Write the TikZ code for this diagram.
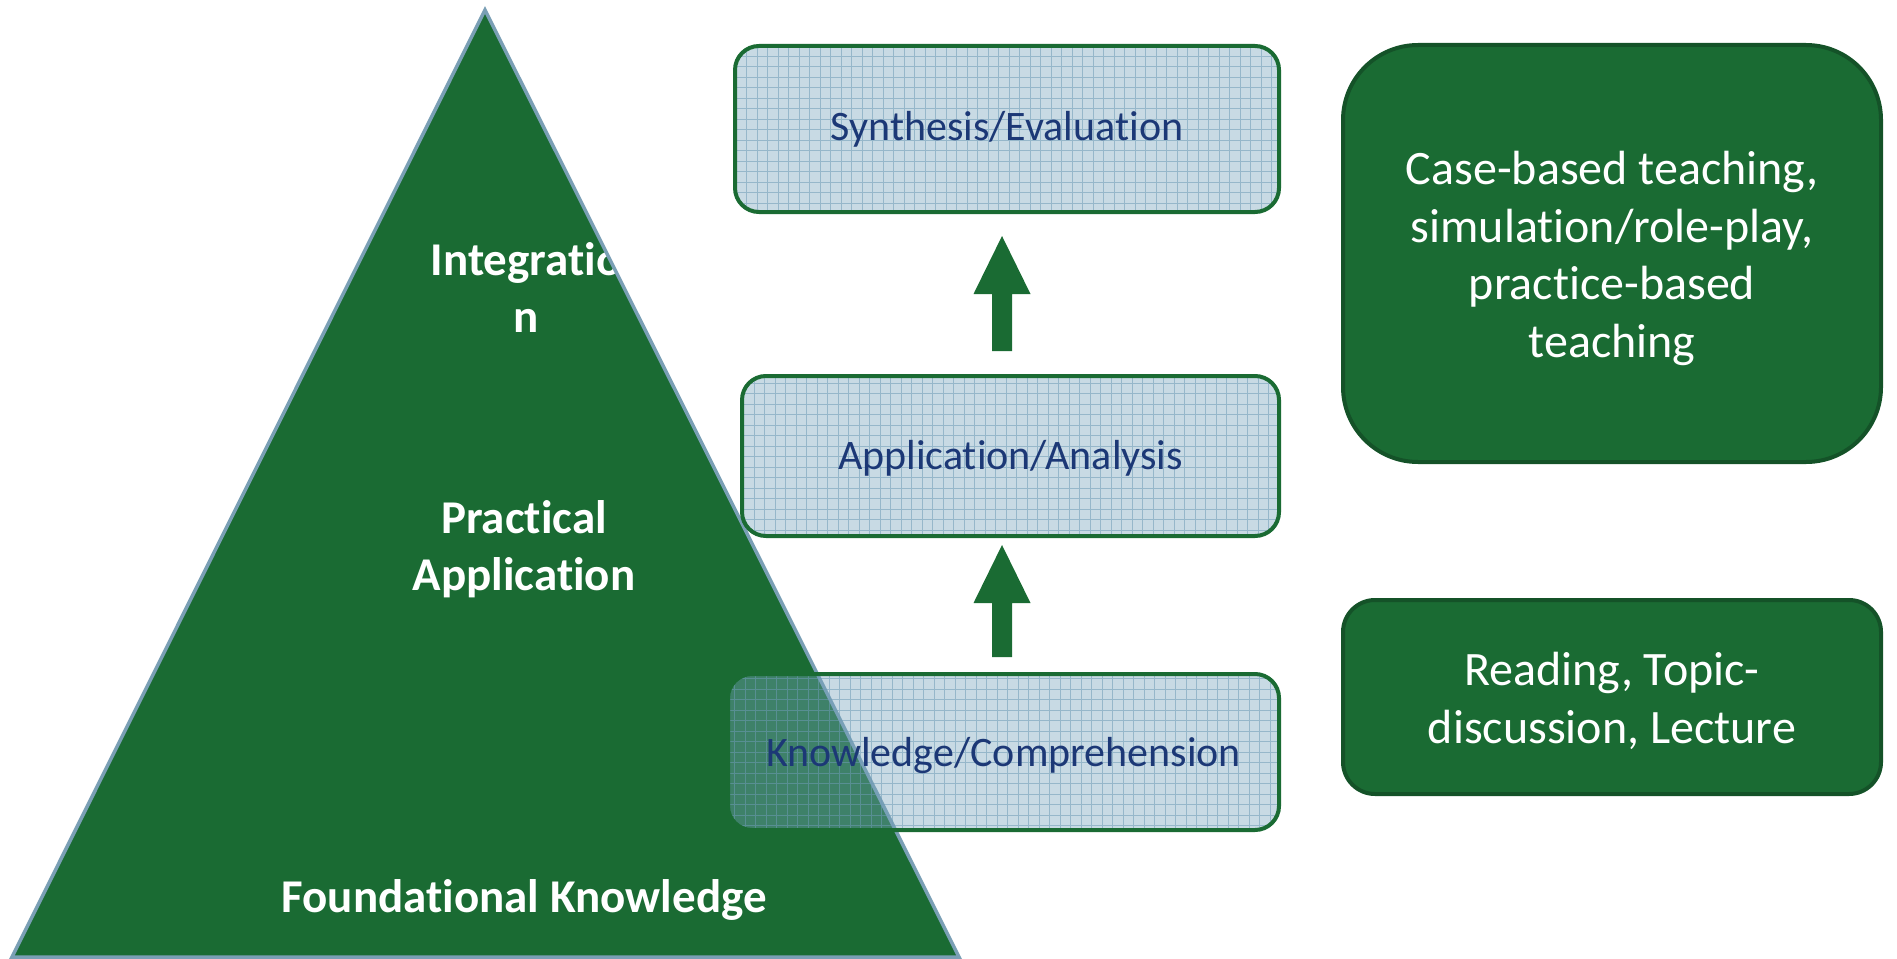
\documentclass[tikz,border=0pt]{standalone}
\usepackage{fontspec}
\setmainfont[RawFeature={-liga;-clig;-dlig;-calt}]{Carlito}
\usetikzlibrary{calc}
\definecolor{tgreen}{RGB}{26,107,51}
\definecolor{tedge}{RGB}{122,159,181}
\definecolor{bfill}{RGB}{117,162,187}
\definecolor{bgrid}{RGB}{110,155,182}
\definecolor{btext}{RGB}{28,56,118}
\definecolor{dgreen}{RGB}{20,82,40}
\newcommand{\dn}[2]{\raisebox{-#1pt}[\height][\depth]{#2}}
\newcommand{\nolig}{\kern0pt }
\tikzset{
  trilabel/.style={text=white, align=center, font=\bfseries\fontsize{47}{57}\selectfont},
  midbox/.style={draw=tgreen, line width=4pt, rounded corners=24pt, fill=bfill, fill opacity=0.4,
    text opacity=1, text=btext, font=\fontsize{42}{50}\selectfont,
    path picture={\draw[bgrid, line width=1pt, draw opacity=0.55, step=10.5pt]
      (path picture bounding box.south west) grid (path picture bounding box.north east);}},
  rbox/.style={draw=dgreen, line width=4pt, fill=tgreen, text=white, align=center,
    font=\fontsize{48}{57.5}\selectfont},
  blockarrow/.style={fill=tgreen}
}
\begin{document}
\begin{tikzpicture}[x=1pt,y=-1pt]
\useasboundingbox (0,0) rectangle (1897,958);
% pyramid
\coordinate (apex) at (485,10);
\coordinate (bl) at (12,957);
\coordinate (br) at (959,957);
\fill[tgreen] (apex) -- (br) -- (bl) -- cycle;
\begin{scope}
  \clip (apex) -- (br) -- (bl) -- cycle;
  \node[trilabel] (integ) at (526,288) {Integrat\nolig io\\n};
  \node[trilabel] (pract) at (524,546) {\dn{3}{Pract\nolig ical}\\\dn{3}{Applicat\nolig ion}};
  \node[trilabel] (found) at (524,897) {\dn{3}{Foundat\nolig ional Knowledge}};
\end{scope}
\draw[tedge, line width=3.5pt, line join=miter] (apex) -- (br) -- (bl) -- cycle;
% middle boxes
\node[midbox, minimum width=544pt, minimum height=166pt] (syn) at (1007,129) {Synthesis/Evaluat\nolig ion};
\node[midbox, minimum width=537pt, minimum height=160pt] (app) at (1010.5,456) {\dn{2}{Applicat\nolig ion/Analysis}};
\node[midbox, minimum width=551pt, minimum height=156pt] (know) at (1003.5,752) {\dn{3.5}{Knowledge/Comprehension}};
% block arrows
\coordinate (a1tail) at (1002,351);
\coordinate (a1tip) at (1002,236);
\coordinate (a2tail) at (1002,657);
\coordinate (a2tip) at (1002,545);
\fill[blockarrow] ($(a1tail)+(-10,0)$) -- ($(a1tip)+(-10,58)$) -- ($(a1tip)+(-28.5,58)$) -- (a1tip)
  -- ($(a1tip)+(28.5,58)$) -- ($(a1tip)+(10,58)$) -- ($(a1tail)+(10,0)$) -- cycle;
\fill[blockarrow] ($(a2tail)+(-10,0)$) -- ($(a2tip)+(-10,58)$) -- ($(a2tip)+(-28.5,58)$) -- (a2tip)
  -- ($(a2tip)+(28.5,58)$) -- ($(a2tip)+(10,58)$) -- ($(a2tail)+(10,0)$) -- cycle;
% right boxes
\node[rbox, rounded corners=75pt, minimum width=538pt, minimum height=417pt] (case) at (1612,253.5)
  {\dn{5}{Case-based teaching,}\\\dn{5}{simulat\nolig ion/role-play,}\\\dn{5}{pract\nolig ice-based}\\\dn{5}{teaching}};
\node[rbox, rounded corners=32pt, minimum width=538pt, minimum height=194pt] (read) at (1612,697)
  {\dn{4}{Reading, Topic-}\\\dn{4}{discussion, Lecture}};
\end{tikzpicture}
\end{document}
